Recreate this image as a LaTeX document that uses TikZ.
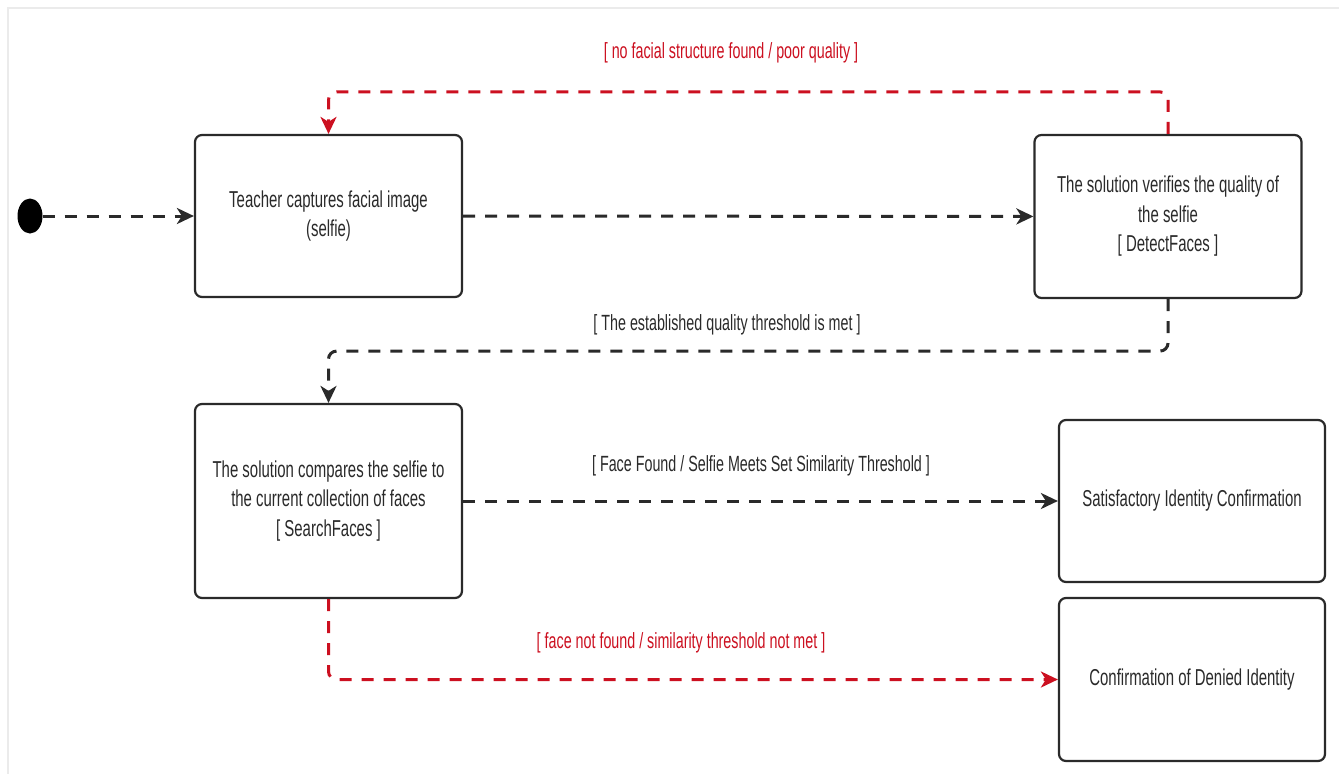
\documentclass[tikz,border=0pt]{standalone}
\usepackage{fontspec}
\setmainfont{Liberation Sans}[FakeStretch=0.65]
\usetikzlibrary{arrows.meta,shapes.geometric}
\definecolor{ink}{HTML}{2A2A2A}
\definecolor{flowred}{HTML}{CC1020}
\definecolor{frame}{HTML}{EBEBEB}
\begin{document}
\begin{tikzpicture}[x=1pt,y=-1pt,
  statebox/.style={draw=ink, line width=2.2pt, rounded corners=7pt, align=center,
    text=ink, font=\fontsize{23}{29.5}\selectfont, inner sep=0pt,
    minimum width=267pt, minimum height=162pt},
  flow/.style={line width=3pt, dash pattern=on 12pt off 10pt, rounded corners=8pt,
    -{Stealth[length=17pt,width=16pt,inset=5pt]}},
  blackflow/.style={flow, draw=ink},
  redflow/.style={flow, draw=flowred},
  guard/.style={font=\fontsize{22}{26}\selectfont, text=ink, inner sep=0pt},
  redguard/.style={guard, text=flowred}]
  % canvas and its faint outer frame
  \fill[white] (0,0) rectangle (1339,774);
  \useasboundingbox (0,0) rectangle (1339,774);
  \draw[frame, line width=2pt] (8,774) -- (8,8) -- (1339,8);

  % states
  \node[fill=black, ellipse, inner sep=0pt, minimum width=25pt, minimum height=35pt] (start) at (30,216) {};
  \node[statebox] (capture) at (328.5,216) {Teacher captures facial image\\(selfie)};
  \node[statebox, minimum height=163pt] (verify) at (1168,216.5) {The solution verifies the quality of\\the selfie\\{[} DetectFaces {]}};
  \node[statebox, minimum height=194pt] (compare) at (328.5,501) {The solution compares the selfie to\\the current collection of faces\\{[} SearchFaces {]}};
  \node[statebox, minimum width=266pt] (confirmed) at (1192,501) {Satisfactory Identity Confirmation};
  \node[statebox, minimum width=266pt, minimum height=163pt] (denied) at (1192,679.5) {Confirmation of Denied Identity};

  % transitions
  \draw[blackflow] (start) -- (capture);
  \draw[blackflow] (capture) -- (verify);
  \draw[redflow] (verify.north) -- ++(0,-42) -| (capture.north);
  \draw[blackflow] (verify.south) -- ++(0,52) -| (compare.north);
  \draw[blackflow] (compare) -- (confirmed);
  \draw[redflow] (compare.south) |- (denied.west);

  % guard labels
  \node[redguard] (g1) at (731,53) {[ no facial structure found / poor quality ]};
  \node[guard] (g2) at (727,325) {[ The established quality threshold is met ]};
  \node[guard] (g3) at (761,466) {[ Face Found / Selfie Meets Set Similarity Threshold ]};
  \node[redguard] (g4) at (681,643) {[ face not found / similarity threshold not met ]};
\end{tikzpicture}
\end{document}
